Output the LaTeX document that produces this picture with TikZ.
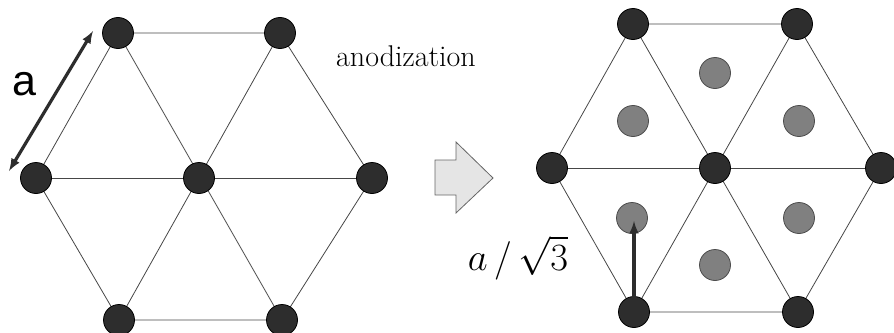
\documentclass[tikz,border=0pt]{standalone}
\usepackage{fontspec}
\usepackage{amsmath}
\usepackage{graphicx}
\usetikzlibrary{arrows,positioning,calc}
\newfontfamily\labelsans{Liberation Sans}
\definecolor{atomdark}{RGB}{45,45,45}
\definecolor{poregray}{RGB}{128,128,128}
\definecolor{edgegray}{RGB}{70,70,70}

\begin{document}
\begin{tikzpicture}[x=1pt,y=-1pt,
        atom/.style={circle, draw=black, line width=0.8pt, fill=atomdark, minimum size=31pt, inner sep=0pt},
        pore/.style={circle, draw=black!70, line width=0.8pt, fill=poregray, minimum size=31pt, inner sep=0pt},
        bond/.style={draw=edgegray, line width=0.8pt},
        dimarrow/.style={line width=3.2pt, >=latex, draw=atomdark}]

        \useasboundingbox (0,0) rectangle (894,332);
        \clip (0,0) rectangle (894,332);

        % left lattice
        \coordinate (lTL) at (118,33);
        \coordinate (lTR) at (280,33);
        \coordinate (lL) at (36,178);
        \coordinate (lC) at (199,178);
        \coordinate (lR) at (372,178);
        \coordinate (lBL) at (119,320);
        \coordinate (lBR) at (282,320);

        % right lattice
        \coordinate (rTL) at (633,24);
        \coordinate (rTR) at (797,24);
        \coordinate (rL) at (552,168);
        \coordinate (rC) at (715,168);
        \coordinate (rR) at (881,168);
        \coordinate (rBL) at (634,312);
        \coordinate (rBR) at (798,312);

        \foreach \s in {l,r} {
            \draw[bond] (\s TL) -- (\s TR) -- (\s R) -- (\s BR) -- (\s BL) -- (\s L) -- cycle;
            \draw[bond] (\s L) -- (\s R);
            \draw[bond] (\s TL) -- (\s BR);
            \draw[bond] (\s TR) -- (\s BL);
        }

        \foreach \s in {l,r}
            \foreach \p in {TL,TR,L,C,R,BL,BR}
                \node[atom] (\s\p n) at (\s\p) {};

        % pores after anodization
        \node[pore] (p1) at (715,73) {};
        \node[pore] (p2) at (633,121) {};
        \node[pore] (p3) at (799,121) {};
        \node[pore] (p4) at (632,218) {};
        \node[pore] (p5) at (715,265) {};
        \node[pore] (p6) at (799,218) {};

        % lattice constant
        \coordinate (aLow) at (9,171);
        \coordinate (aHigh) at (93,31);
        \draw[dimarrow, <->] (aLow) -- (aHigh);
        \node[font=\labelsans\fontsize{43}{44}\selectfont, inner sep=0pt] (alab) at (24,84) {a};

        \coordinate (poreTip) at (634,221);
        \draw[dimarrow, ->] (rBL) -- (poreTip);
        \node[font=\fontsize{24.88}{30}\selectfont, inner sep=0pt] (plab) at (518,258) {\scalebox{1.55}{$a\,/\,\sqrt{3}$}};

        % process arrow
        \node[font=\fontsize{30}{32}\selectfont, inner sep=0pt, anchor=base] (anod) at (406,66) {anodization};
        \draw[draw=black!60, fill=black!10, line width=0.8pt]
            (435,160) -- (456,160) -- (456,142) -- (493,178) -- (456,213) -- (456,195) -- (435,195) -- cycle;

    \end{tikzpicture}
\end{document}
